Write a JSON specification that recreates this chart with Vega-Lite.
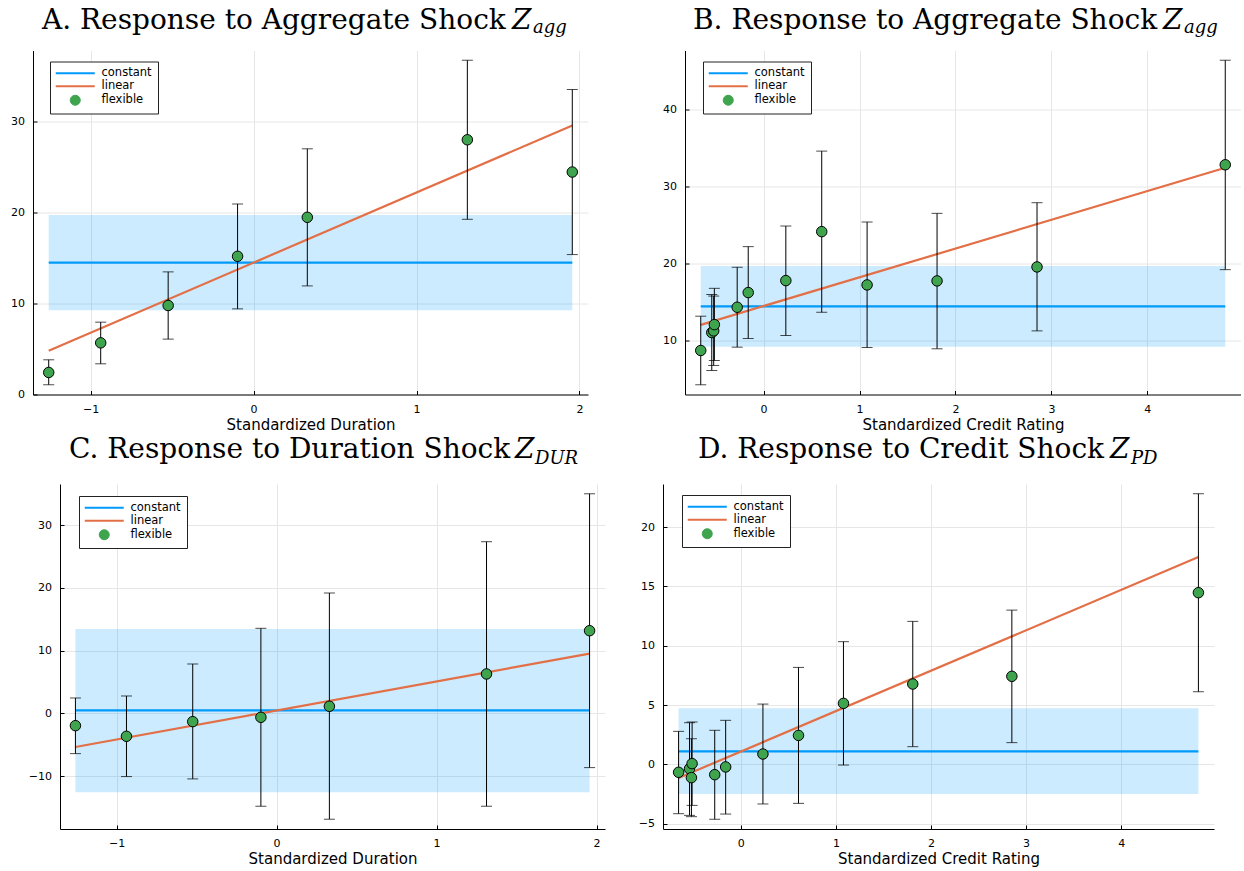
{
  "$schema": "https://vega.github.io/schema/vega-lite/v6.json",
  "background": "white",
  "padding": {"left": 0, "top": 6.5, "right": 0, "bottom": 0},
  "config": {
    "view": {"stroke": null},
    "font": "DejaVu Sans",
    "axis": {
      "labelFont": "DejaVu Sans", "labelFontSize": 11, "labelColor": "black",
      "titleFont": "DejaVu Sans", "titleFontSize": 15, "titleFontWeight": "normal", "titleColor": "black",
      "domainColor": "black", "domainWidth": 1, "gridColor": "#e6e6e6", "gridWidth": 1,
      "tickColor": "black", "tickSize": -4, "labelPadding": 12.5, "titlePadding": 3, "format": "d"
    }
  },
  "datasets": {
    "A_pts": [
      {"x": -1.257, "y": 2.41, "lo": 1.06, "hi": 3.80},
      {"x": -0.938, "y": 5.66, "lo": 3.36, "hi": 7.93},
      {"x": -0.524, "y": 9.76, "lo": 6.07, "hi": 13.45},
      {"x": -0.098, "y": 15.16, "lo": 9.39, "hi": 20.9},
      {"x": 0.330, "y": 19.44, "lo": 11.91, "hi": 26.96},
      {"x": 1.312, "y": 27.95, "lo": 19.22, "hi": 36.68},
      {"x": 1.956, "y": 24.41, "lo": 15.35, "hi": 33.47}
    ],
    "A_lines": [
      {"model": "constant", "x": -1.257, "y": 14.47},
      {"model": "constant", "x": 1.956, "y": 14.47},
      {"model": "linear", "x": -1.257, "y": 4.79},
      {"model": "linear", "x": 1.956, "y": 29.52}
    ],
    "A_band": [{"x1": -1.257, "x2": 1.956, "lo": 9.23, "hi": 19.7}],
    "B_pts": [
      {"x": -0.655, "y": 8.75, "lo": 4.31, "hi": 13.19},
      {"x": -0.54, "y": 11.07, "lo": 6.16, "hi": 16.0},
      {"x": -0.52, "y": 11.29, "lo": 6.81, "hi": 15.8},
      {"x": -0.513, "y": 12.1, "lo": 7.45, "hi": 16.8},
      {"x": -0.275, "y": 14.35, "lo": 9.18, "hi": 19.53},
      {"x": -0.16, "y": 16.25, "lo": 10.3, "hi": 22.2},
      {"x": 0.232, "y": 17.8, "lo": 10.69, "hi": 24.87},
      {"x": 0.606, "y": 24.14, "lo": 13.7, "hi": 34.57},
      {"x": 1.079, "y": 17.24, "lo": 9.14, "hi": 25.39},
      {"x": 1.808, "y": 17.76, "lo": 8.97, "hi": 26.51},
      {"x": 2.85, "y": 19.57, "lo": 11.29, "hi": 27.89},
      {"x": 4.812, "y": 32.8, "lo": 19.22, "hi": 46.34}
    ],
    "B_lines": [
      {"model": "constant", "x": -0.655, "y": 14.47},
      {"model": "constant", "x": 4.812, "y": 14.47},
      {"model": "linear", "x": -0.655, "y": 12.07},
      {"model": "linear", "x": 4.812, "y": 32.41}
    ],
    "B_band": [{"x1": -0.655, "x2": 4.812, "lo": 9.23, "hi": 19.7}],
    "C_pts": [
      {"x": -1.257, "y": -1.97, "lo": -6.43, "hi": 2.44},
      {"x": -0.938, "y": -3.67, "lo": -10.09, "hi": 2.76},
      {"x": -0.524, "y": -1.33, "lo": -10.46, "hi": 7.86},
      {"x": -0.098, "y": -0.64, "lo": -14.82, "hi": 13.55},
      {"x": 0.330, "y": 1.12, "lo": -16.89, "hi": 19.18},
      {"x": 1.312, "y": 6.27, "lo": -14.82, "hi": 27.36},
      {"x": 1.956, "y": 13.17, "lo": -8.66, "hi": 35.0}
    ],
    "C_lines": [
      {"model": "constant", "x": -1.257, "y": 0.48},
      {"model": "constant", "x": 1.956, "y": 0.48},
      {"model": "linear", "x": -1.257, "y": -5.37},
      {"model": "linear", "x": 1.956, "y": 9.51}
    ],
    "C_band": [{"x1": -1.257, "x2": 1.956, "lo": -12.59, "hi": 13.44}],
    "D_pts": [
      {"x": -0.655, "y": -0.67, "lo": -4.16, "hi": 2.78},
      {"x": -0.54, "y": -0.37, "lo": -4.30, "hi": 3.51},
      {"x": -0.52, "y": -1.12, "lo": -4.41, "hi": 2.16},
      {"x": -0.513, "y": 0.06, "lo": -3.46, "hi": 3.57},
      {"x": -0.275, "y": -0.87, "lo": -4.63, "hi": 2.87},
      {"x": -0.16, "y": -0.22, "lo": -4.19, "hi": 3.71},
      {"x": 0.232, "y": 0.87, "lo": -3.34, "hi": 5.08},
      {"x": 0.606, "y": 2.44, "lo": -3.29, "hi": 8.17},
      {"x": 1.079, "y": 5.14, "lo": -0.06, "hi": 10.34},
      {"x": 1.808, "y": 6.77, "lo": 1.49, "hi": 12.05},
      {"x": 2.85, "y": 7.42, "lo": 1.83, "hi": 13.0},
      {"x": 4.812, "y": 14.47, "lo": 6.12, "hi": 22.81}
    ],
    "D_lines": [
      {"model": "constant", "x": -0.655, "y": 1.1},
      {"model": "constant", "x": 4.812, "y": 1.1},
      {"model": "linear", "x": -0.655, "y": -1.15},
      {"model": "linear", "x": 4.812, "y": 17.47}
    ],
    "D_band": [{"x1": -0.655, "x2": 4.812, "lo": -2.5, "hi": 4.72}]
  },
  "resolve": {"scale": {"color": "independent"}, "legend": {"color": "independent"}},
  "center": true,
  "spacing": 3.5,
  "vconcat": [
    {
      "spacing": 0,
      "resolve": {"scale": {"color": "independent"}, "legend": {"color": "independent"}},
      "hconcat": [
        {
          "title": {"text": "agg", "anchor": "start", "frame": "bounds", "align": "left", "dx": 533, "offset": -30, "font": "DejaVu Serif", "fontSize": 18, "fontStyle": "italic", "fontWeight": "normal", "color": "black"},
          "resolve": {"scale": {"color": "independent"}, "legend": {"color": "independent"}},
          "vconcat": [
            {
              "title": {"text": "Z", "anchor": "start", "frame": "bounds", "align": "left", "dx": 512, "offset": -28, "font": "DejaVu Serif", "fontSize": 28, "fontStyle": "italic", "fontWeight": "normal", "color": "black"},
              "resolve": {"scale": {"color": "independent"}, "legend": {"color": "independent"}},
              "vconcat": [
                {
                  "width": 555, "height": 344,
                  "title": {"text": "A. Response to Aggregate Shock", "anchor": "start", "frame": "group", "align": "left", "dx": 9, "offset": 16, "font": "DejaVu Serif", "fontSize": 28, "fontWeight": "normal", "color": "black"},
                  "layer": [
                    {"data": {"name": "A_band"}, "mark": {"type": "rect", "color": "#009AFA", "opacity": 0.2},
                     "encoding": {
                       "x": {"field": "x1", "type": "quantitative", "title": "Standardized Duration", "scale": {"domain": [-1.3534, 2.0524], "nice": false, "zero": false}, "axis": {"values": [-1, 0, 1, 2]}},
                       "x2": {"field": "x2"},
                       "y": {"field": "lo", "type": "quantitative", "title": null, "scale": {"domain": [-0.01, 37.75], "nice": false, "zero": false}, "axis": {"values": [0, 10, 20, 30], "minExtent": 33}},
                       "y2": {"field": "hi"}}},
                    {"data": {"name": "A_lines"}, "mark": {"type": "line", "strokeWidth": 2.2},
                     "encoding": {
                       "x": {"field": "x", "type": "quantitative", "title": "Standardized Duration"},
                       "y": {"field": "y", "type": "quantitative", "title": null},
                       "color": {"field": "model", "type": "nominal", "scale": {"domain": ["constant", "linear", "flexible"], "range": ["#009AFA", "#E36F47", "#3EA44E"]},
                         "legend": {"title": null, "orient": "none", "legendX": 17, "legendY": 11, "padding": 6, "strokeColor": "#222222", "fillColor": "white", "labelFont": "DejaVu Sans", "labelFontSize": 11.5, "labelColor": "black", "symbolOffset": 13.5, "labelOffset": 20.5, "rowPadding": 0,
                           "encode": {"symbols": {"update": {
                             "shape": {"signal": "datum.value === 'flexible' ? 'circle' : 'stroke'"},
                             "size": {"signal": "datum.value === 'flexible' ? 100 : 1521"},
                             "fill": {"signal": "datum.value === 'flexible' ? '#3EA44E' : 'transparent'"},
                             "stroke": {"signal": "datum.value === 'flexible' ? 'black' : (datum.value === 'constant' ? '#009AFA' : '#E36F47')"},
                             "strokeWidth": {"signal": "datum.value === 'flexible' ? 1 : 2.2"},
                             "opacity": {"value": 1}}}}}}}},
                    {"data": {"name": "A_pts"}, "mark": {"type": "errorbar", "color": "black", "ticks": {"size": 11, "color": "black"}},
                     "encoding": {
                       "x": {"field": "x", "type": "quantitative", "title": "Standardized Duration"},
                       "y": {"field": "lo", "type": "quantitative", "title": null},
                       "y2": {"field": "hi"}}},
                    {"data": {"name": "A_pts"}, "mark": {"type": "circle", "size": 110, "fill": "#3EA44E", "opacity": 1, "stroke": "black", "strokeWidth": 1},
                     "encoding": {
                       "x": {"field": "x", "type": "quantitative", "title": "Standardized Duration"},
                       "y": {"field": "y", "type": "quantitative", "title": null}}}
                  ]
                }
              ]
            }
          ]
        },
        {
          "title": {"text": "agg", "anchor": "start", "frame": "bounds", "align": "left", "dx": 596, "offset": -30, "font": "DejaVu Serif", "fontSize": 18, "fontStyle": "italic", "fontWeight": "normal", "color": "black"},
          "resolve": {"scale": {"color": "independent"}, "legend": {"color": "independent"}},
          "vconcat": [
            {
              "title": {"text": "Z", "anchor": "start", "frame": "bounds", "align": "left", "dx": 575, "offset": -28, "font": "DejaVu Serif", "fontSize": 28, "fontStyle": "italic", "fontWeight": "normal", "color": "black"},
              "resolve": {"scale": {"color": "independent"}, "legend": {"color": "independent"}},
              "vconcat": [
                {
                  "width": 556, "height": 344,
                  "title": {"text": "B. Response to Aggregate Shock", "anchor": "start", "frame": "group", "align": "left", "dx": 8, "offset": 16, "font": "DejaVu Serif", "fontSize": 28, "fontWeight": "normal", "color": "black"},
                  "layer": [
                    {"data": {"name": "B_band"}, "mark": {"type": "rect", "color": "#009AFA", "opacity": 0.2},
                     "encoding": {
                       "x": {"field": "x1", "type": "quantitative", "title": "Standardized Credit Rating", "scale": {"domain": [-0.819, 4.976], "nice": false, "zero": false}, "axis": {"values": [0, 1, 2, 3, 4]}},
                       "x2": {"field": "x2"},
                       "y": {"field": "lo", "type": "quantitative", "title": null, "scale": {"domain": [3.05, 47.6], "nice": false, "zero": false}, "axis": {"values": [10, 20, 30, 40], "minExtent": 97}},
                       "y2": {"field": "hi"}}},
                    {"data": {"name": "B_lines"}, "mark": {"type": "line", "strokeWidth": 2.2},
                     "encoding": {
                       "x": {"field": "x", "type": "quantitative", "title": "Standardized Credit Rating"},
                       "y": {"field": "y", "type": "quantitative", "title": null},
                       "color": {"field": "model", "type": "nominal", "scale": {"domain": ["constant", "linear", "flexible"], "range": ["#009AFA", "#E36F47", "#3EA44E"]},
                         "legend": {"title": null, "orient": "none", "legendX": 18, "legendY": 11, "padding": 6, "strokeColor": "#222222", "fillColor": "white", "labelFont": "DejaVu Sans", "labelFontSize": 11.5, "labelColor": "black", "symbolOffset": 13.5, "labelOffset": 20.5, "rowPadding": 0,
                           "encode": {"symbols": {"update": {
                             "shape": {"signal": "datum.value === 'flexible' ? 'circle' : 'stroke'"},
                             "size": {"signal": "datum.value === 'flexible' ? 100 : 1521"},
                             "fill": {"signal": "datum.value === 'flexible' ? '#3EA44E' : 'transparent'"},
                             "stroke": {"signal": "datum.value === 'flexible' ? 'black' : (datum.value === 'constant' ? '#009AFA' : '#E36F47')"},
                             "strokeWidth": {"signal": "datum.value === 'flexible' ? 1 : 2.2"},
                             "opacity": {"value": 1}}}}}}}},
                    {"data": {"name": "B_pts"}, "mark": {"type": "errorbar", "color": "black", "ticks": {"size": 11, "color": "black"}},
                     "encoding": {
                       "x": {"field": "x", "type": "quantitative", "title": "Standardized Credit Rating"},
                       "y": {"field": "lo", "type": "quantitative", "title": null},
                       "y2": {"field": "hi"}}},
                    {"data": {"name": "B_pts"}, "mark": {"type": "circle", "size": 110, "fill": "#3EA44E", "opacity": 1, "stroke": "black", "strokeWidth": 1},
                     "encoding": {
                       "x": {"field": "x", "type": "quantitative", "title": "Standardized Credit Rating"},
                       "y": {"field": "y", "type": "quantitative", "title": null}}}
                  ]
                }
              ]
            }
          ]
        }
      ]
    },
    {
      "spacing": 0,
      "resolve": {"scale": {"color": "independent"}, "legend": {"color": "independent"}},
      "hconcat": [
        {
          "title": {"text": "DUR", "anchor": "start", "frame": "bounds", "align": "left", "dx": 515, "offset": -32, "font": "DejaVu Serif", "fontSize": 18, "fontStyle": "italic", "fontWeight": "normal", "color": "black"},
          "resolve": {"scale": {"color": "independent"}, "legend": {"color": "independent"}},
          "vconcat": [
            {
              "title": {"text": "Z", "anchor": "start", "frame": "bounds", "align": "left", "dx": 495, "offset": -28, "font": "DejaVu Serif", "fontSize": 28, "fontStyle": "italic", "fontWeight": "normal", "color": "black"},
              "resolve": {"scale": {"color": "independent"}, "legend": {"color": "independent"}},
              "vconcat": [
                {
                  "width": 545, "height": 345,
                  "title": {"text": "C. Response to Duration Shock", "anchor": "start", "frame": "group", "align": "left", "dx": 9, "offset": 20, "font": "DejaVu Serif", "fontSize": 28, "fontWeight": "normal", "color": "black"},
                  "layer": [
                    {"data": {"name": "C_band"}, "mark": {"type": "rect", "color": "#009AFA", "opacity": 0.2},
                     "encoding": {
                       "x": {"field": "x1", "type": "quantitative", "title": "Standardized Duration", "scale": {"domain": [-1.3534, 2.0524], "nice": false, "zero": false}, "axis": {"values": [-1, 0, 1, 2]}},
                       "x2": {"field": "x2"},
                       "y": {"field": "lo", "type": "quantitative", "title": null, "scale": {"domain": [-18.45, 36.56], "nice": false, "zero": false}, "axis": {"values": [-10, 0, 10, 20, 30], "minExtent": 40}},
                       "y2": {"field": "hi"}}},
                    {"data": {"name": "C_lines"}, "mark": {"type": "line", "strokeWidth": 2.2},
                     "encoding": {
                       "x": {"field": "x", "type": "quantitative", "title": "Standardized Duration"},
                       "y": {"field": "y", "type": "quantitative", "title": null},
                       "color": {"field": "model", "type": "nominal", "scale": {"domain": ["constant", "linear", "flexible"], "range": ["#009AFA", "#E36F47", "#3EA44E"]},
                         "legend": {"title": null, "orient": "none", "legendX": 19, "legendY": 12, "padding": 6, "strokeColor": "#222222", "fillColor": "white", "labelFont": "DejaVu Sans", "labelFontSize": 11.5, "labelColor": "black", "symbolOffset": 13.5, "labelOffset": 20.5, "rowPadding": 0,
                           "encode": {"symbols": {"update": {
                             "shape": {"signal": "datum.value === 'flexible' ? 'circle' : 'stroke'"},
                             "size": {"signal": "datum.value === 'flexible' ? 100 : 1521"},
                             "fill": {"signal": "datum.value === 'flexible' ? '#3EA44E' : 'transparent'"},
                             "stroke": {"signal": "datum.value === 'flexible' ? 'black' : (datum.value === 'constant' ? '#009AFA' : '#E36F47')"},
                             "strokeWidth": {"signal": "datum.value === 'flexible' ? 1 : 2.2"},
                             "opacity": {"value": 1}}}}}}}},
                    {"data": {"name": "C_pts"}, "mark": {"type": "errorbar", "color": "black", "ticks": {"size": 11, "color": "black"}},
                     "encoding": {
                       "x": {"field": "x", "type": "quantitative", "title": "Standardized Duration"},
                       "y": {"field": "lo", "type": "quantitative", "title": null},
                       "y2": {"field": "hi"}}},
                    {"data": {"name": "C_pts"}, "mark": {"type": "circle", "size": 110, "fill": "#3EA44E", "opacity": 1, "stroke": "black", "strokeWidth": 1},
                     "encoding": {
                       "x": {"field": "x", "type": "quantitative", "title": "Standardized Duration"},
                       "y": {"field": "y", "type": "quantitative", "title": null}}}
                  ]
                }
              ]
            }
          ]
        },
        {
          "title": {"text": "PD", "anchor": "start", "frame": "bounds", "align": "left", "dx": 526, "offset": -32, "font": "DejaVu Serif", "fontSize": 18, "fontStyle": "italic", "fontWeight": "normal", "color": "black"},
          "resolve": {"scale": {"color": "independent"}, "legend": {"color": "independent"}},
          "vconcat": [
            {
              "title": {"text": "Z", "anchor": "start", "frame": "bounds", "align": "left", "dx": 505, "offset": -28, "font": "DejaVu Serif", "fontSize": 28, "fontStyle": "italic", "fontWeight": "normal", "color": "black"},
              "resolve": {"scale": {"color": "independent"}, "legend": {"color": "independent"}},
              "vconcat": [
                {
                  "width": 551, "height": 345,
                  "title": {"text": "D. Response to Credit Shock", "anchor": "start", "frame": "group", "align": "left", "dx": 35, "offset": 20, "font": "DejaVu Serif", "fontSize": 28, "fontWeight": "normal", "color": "black"},
                  "layer": [
                    {"data": {"name": "D_band"}, "mark": {"type": "rect", "color": "#009AFA", "opacity": 0.2},
                     "encoding": {
                       "x": {"field": "x1", "type": "quantitative", "title": "Standardized Credit Rating", "scale": {"domain": [-0.819, 4.976], "nice": false, "zero": false}, "axis": {"values": [0, 1, 2, 3, 4]}},
                       "x2": {"field": "x2"},
                       "y": {"field": "lo", "type": "quantitative", "title": null, "scale": {"domain": [-5.45, 23.63], "nice": false, "zero": false}, "axis": {"values": [-5, 0, 5, 10, 15, 20], "minExtent": 58}},
                       "y2": {"field": "hi"}}},
                    {"data": {"name": "D_lines"}, "mark": {"type": "line", "strokeWidth": 2.2},
                     "encoding": {
                       "x": {"field": "x", "type": "quantitative", "title": "Standardized Credit Rating"},
                       "y": {"field": "y", "type": "quantitative", "title": null},
                       "color": {"field": "model", "type": "nominal", "scale": {"domain": ["constant", "linear", "flexible"], "range": ["#009AFA", "#E36F47", "#3EA44E"]},
                         "legend": {"title": null, "orient": "none", "legendX": 19, "legendY": 11, "padding": 6, "strokeColor": "#222222", "fillColor": "white", "labelFont": "DejaVu Sans", "labelFontSize": 11.5, "labelColor": "black", "symbolOffset": 13.5, "labelOffset": 20.5, "rowPadding": 0,
                           "encode": {"symbols": {"update": {
                             "shape": {"signal": "datum.value === 'flexible' ? 'circle' : 'stroke'"},
                             "size": {"signal": "datum.value === 'flexible' ? 100 : 1521"},
                             "fill": {"signal": "datum.value === 'flexible' ? '#3EA44E' : 'transparent'"},
                             "stroke": {"signal": "datum.value === 'flexible' ? 'black' : (datum.value === 'constant' ? '#009AFA' : '#E36F47')"},
                             "strokeWidth": {"signal": "datum.value === 'flexible' ? 1 : 2.2"},
                             "opacity": {"value": 1}}}}}}}},
                    {"data": {"name": "D_pts"}, "mark": {"type": "errorbar", "color": "black", "ticks": {"size": 11, "color": "black"}},
                     "encoding": {
                       "x": {"field": "x", "type": "quantitative", "title": "Standardized Credit Rating"},
                       "y": {"field": "lo", "type": "quantitative", "title": null},
                       "y2": {"field": "hi"}}},
                    {"data": {"name": "D_pts"}, "mark": {"type": "circle", "size": 110, "fill": "#3EA44E", "opacity": 1, "stroke": "black", "strokeWidth": 1},
                     "encoding": {
                       "x": {"field": "x", "type": "quantitative", "title": "Standardized Credit Rating"},
                       "y": {"field": "y", "type": "quantitative", "title": null}}}
                  ]
                }
              ]
            }
          ]
        }
      ]
    }
  ]
}
